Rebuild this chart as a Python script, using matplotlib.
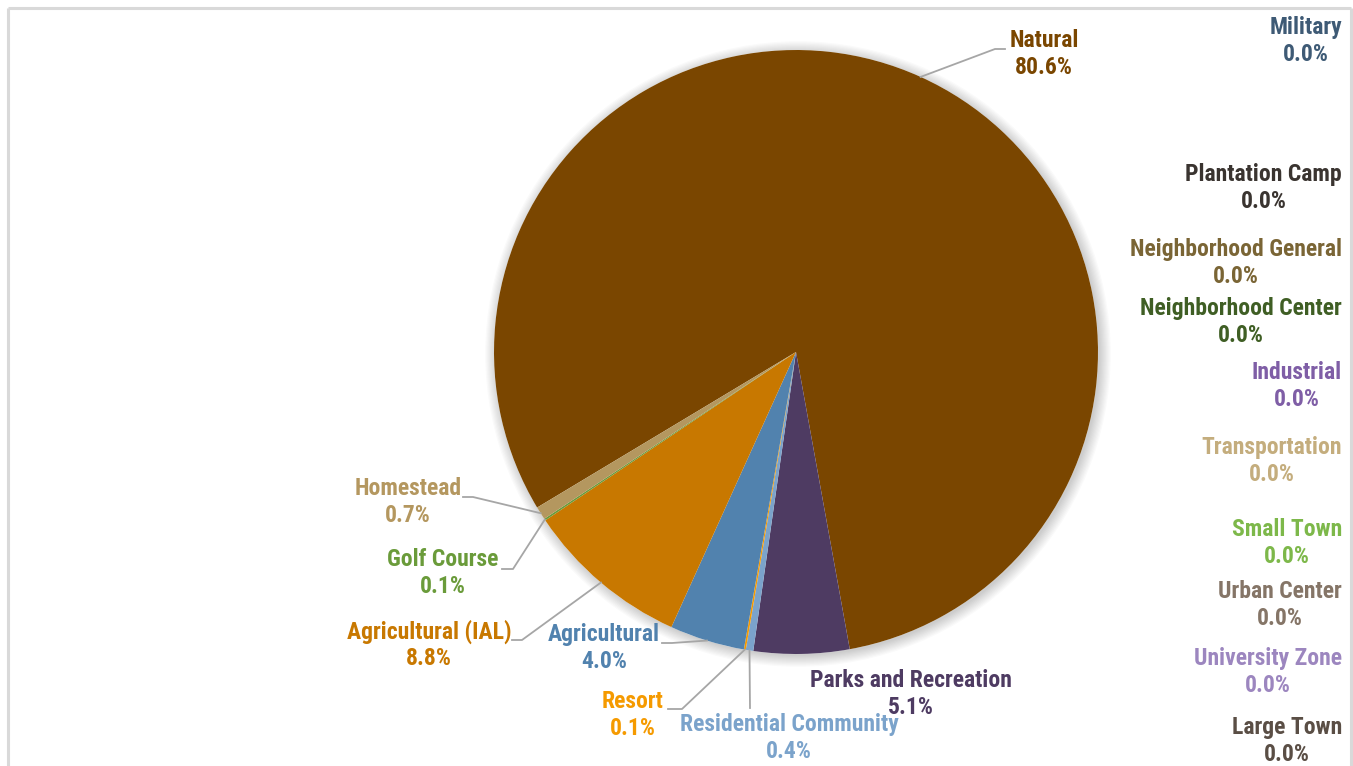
import matplotlib
matplotlib.use("Agg")
import matplotlib.pyplot as plt
from matplotlib.patches import Circle
from matplotlib import font_manager
import numpy as np

avail = {f.name for f in font_manager.fontManager.ttflist}
fam = [f for f in ['Roboto Condensed', 'Liberation Sans Narrow', 'Roboto', 'DejaVu Sans'] if f in avail]
plt.rcParams['font.family'] = fam

# ---- data ----
categories = ["Natural", "Parks and Recreation", "Residential Community", "Resort",
              "Agricultural", "Agricultural (IAL)", "Golf Course", "Homestead",
              "Large Town", "University Zone", "Urban Center", "Small Town",
              "Transportation", "Industrial", "Neighborhood Center",
              "Neighborhood General", "Plantation Camp", "Military"]
values = [80.6, 5.1, 0.4, 0.1, 4.0, 8.8, 0.1, 0.7,
          0.0, 0.0, 0.0, 0.0, 0.0, 0.0, 0.0, 0.0, 0.0, 0.0]
colors = ["#7A4600", "#4E3B62", "#7BA3CB", "#F59A00", "#5182AE", "#C87800",
          "#6A9B3A", "#B4975F",
          "#5A4E45", "#9C86BF", "#857567", "#7DB84A", "#C4AD7D", "#7F5EA6",
          "#3F5E24", "#7A6535", "#3A3430", "#3E5A75"]

W, H = 1353, 766
fig = plt.figure(figsize=(W / 100, H / 100), dpi=100)
ax = fig.add_axes([0, 0, 1, 1])

def Y(y):
    return H - y

cx, cy, R = 796, Y(352), 302

# soft shadow
for k in range(10):
    ax.add_patch(Circle((cx + 2, cy - 2), R + k * 1.2, color='black', alpha=0.018, lw=0, zorder=0))
ax.add_patch(Circle((cx, cy), R, color='white', lw=0, zorder=0.5))

wedges, _ = ax.pie(values, colors=colors, startangle=211, counterclock=False,
                   center=(cx, cy), radius=R, frame=True,
                   wedgeprops=dict(linewidth=0))
ax.set_xlim(0, W)
ax.set_ylim(0, H)
ax.axis('off')

# frame
fc = "#D9D9D9"
ax.plot([8, 8], [Y(8), -5], color=fc, lw=2.2, solid_capstyle='butt')
ax.plot([8, 1351], [Y(8), Y(8)], color=fc, lw=2.2, solid_capstyle='butt')
ax.plot([1351, 1351], [Y(8), -5], color=fc, lw=2.2, solid_capstyle='butt')

FS = 17
LS = 1.18
lc = "#A6A6A6"

def mid_point(i):
    w = wedges[i]
    a = np.deg2rad((w.theta1 + w.theta2) / 2)
    return cx + R * np.cos(a), cy + R * np.sin(a)

# label positions (image pixels): center x, center y of two-line block, leader elbow
labels_pos = {
    "Natural": (1044, 54, [(995, 49), (1005, 49)]),
    "Parks and Recreation": (911, 694, None),
    "Residential Community": (789, 738, [(750, 708)]),
    "Resort": (633, 715, [(682, 709), (668, 709)]),
    "Agricultural": (604, 648, [(672, 643), (662, 643)]),
    "Agricultural (IAL)": (429, 645, [(522, 640), (512, 640)]),
    "Golf Course": (443, 573, [(513, 569), (502, 569)]),
    "Homestead": (408, 502, [(473, 497), (463, 497)]),
}

for i, (name, v, c) in enumerate(zip(categories, values, colors)):
    txt = f"{name}\n{v:.1f}%"
    if name in labels_pos:
        x, y, pts = labels_pos[name]
        if pts:
            mx, my = mid_point(i)
            xs = [mx] + [p[0] for p in pts]
            ys = [my] + [Y(p[1]) for p in pts]
            ax.plot(xs, ys, color=lc, lw=1.3, zorder=3)
        ax.text(x, Y(y), txt, ha='center', va='center', color=c, fontsize=FS,
                fontweight='bold', linespacing=LS, zorder=4)

zero_y = {"Military": 41, "Plantation Camp": 188, "Neighborhood General": 263,
          "Neighborhood Center": 322, "Industrial": 386, "Transportation": 461,
          "Small Town": 543, "Urban Center": 605, "University Zone": 672,
          "Large Town": 741}
for name, v, c in zip(categories, values, colors):
    if name in zero_y:
        ax.text(1342, Y(zero_y[name]), f"{name}\n{v:.1f}%", ha='right', va='center',
                multialignment='center', color=c, fontsize=FS, fontweight='bold',
                linespacing=LS, zorder=4)

fig.savefig("out.png", dpi=100, facecolor='white')
